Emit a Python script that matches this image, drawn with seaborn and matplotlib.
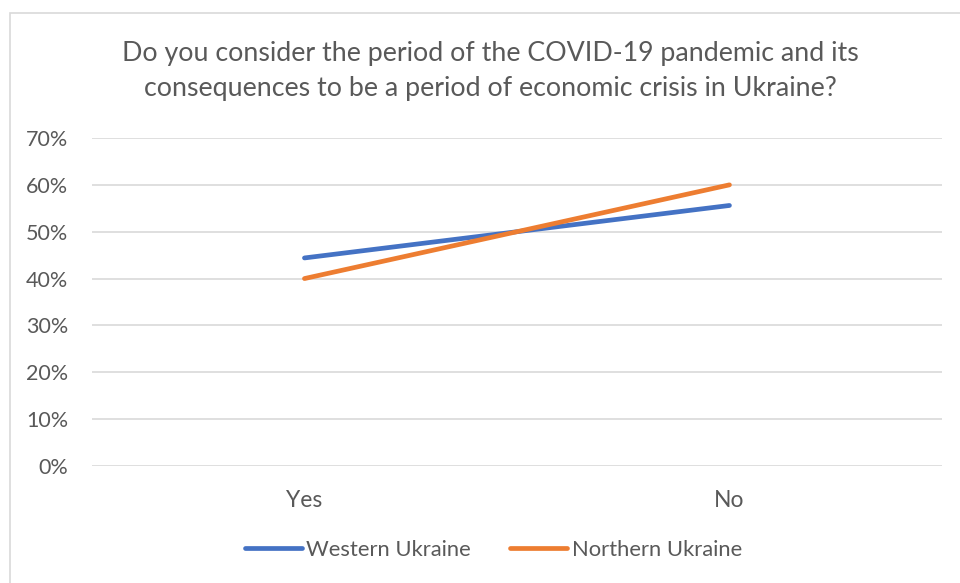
import pandas as pd
import matplotlib.pyplot as plt
import seaborn as sns
from matplotlib.patches import Rectangle
from matplotlib.ticker import PercentFormatter

# data
answers = ["Yes", "No"]
western = [0.444, 0.556]
northern = [0.40, 0.60]
series_names = ["Western Ukraine", "Northern Ukraine"]

df = pd.DataFrame({
    "answer": answers * 2,
    "share": western + northern,
    "region": [series_names[0]] * 2 + [series_names[1]] * 2,
})

sns.set_style("white")
plt.rcParams['font.family'] = ['Lato', 'DejaVu Sans']

fig = plt.figure(figsize=(9.6, 5.83), dpi=100)
ax = fig.add_axes([0.0958, 0.2007, 0.8854, 0.5626])

# chart frame
fig.patches.append(Rectangle((10 / 960, -0.01), 1.0, (583 - 13) / 583 + 0.01,
                             transform=fig.transFigure, fill=False,
                             edgecolor="#d9d9d9", linewidth=1.2))

sns.lineplot(data=df, x="answer", y="share", hue="region", sort=False,
             palette=["#4472C4", "#ED7D31"], linewidth=3.4, ax=ax,
             legend=True)
for ln in ax.lines:
    ln.set_solid_capstyle("round")

ax.set_xlim(-0.5, 1.5)
ax.set_ylim(0, 0.7)
ax.set_yticks([i / 10 for i in range(8)])
ax.yaxis.set_major_formatter(PercentFormatter(1.0, decimals=0))
ax.grid(axis="y", color="#d9d9d9", linewidth=1.2)
ax.set_axisbelow(True)
for s in ax.spines.values():
    s.set_visible(False)
ax.tick_params(axis="both", length=0, colors="#595959")
ax.tick_params(axis="y", pad=17, labelsize=15.5)
ax.tick_params(axis="x", pad=17, labelsize=16.5)
ax.set_xlabel("")
ax.set_ylabel("")

fig.text(0.5104, 0.908, "Do you consider the period of the COVID-19 pandemic and its",
         ha="center", va="center", fontsize=19.3, color="#595959")
fig.text(0.5104, 0.849, "consequences to be a period of economic crisis in Ukraine?",
         ha="center", va="center", fontsize=19.3, color="#595959")

handles, labels = ax.get_legend_handles_labels()
ax.get_legend().remove()
leg = fig.legend(handles, labels, loc="center", bbox_to_anchor=(0.514, 0.057),
                 ncol=2, frameon=False, fontsize=15.8, handlelength=2.6,
                 handletextpad=0.2, columnspacing=1.8)
for t in leg.get_texts():
    t.set_color("#595959")

fig.savefig("out.png", dpi=100)
